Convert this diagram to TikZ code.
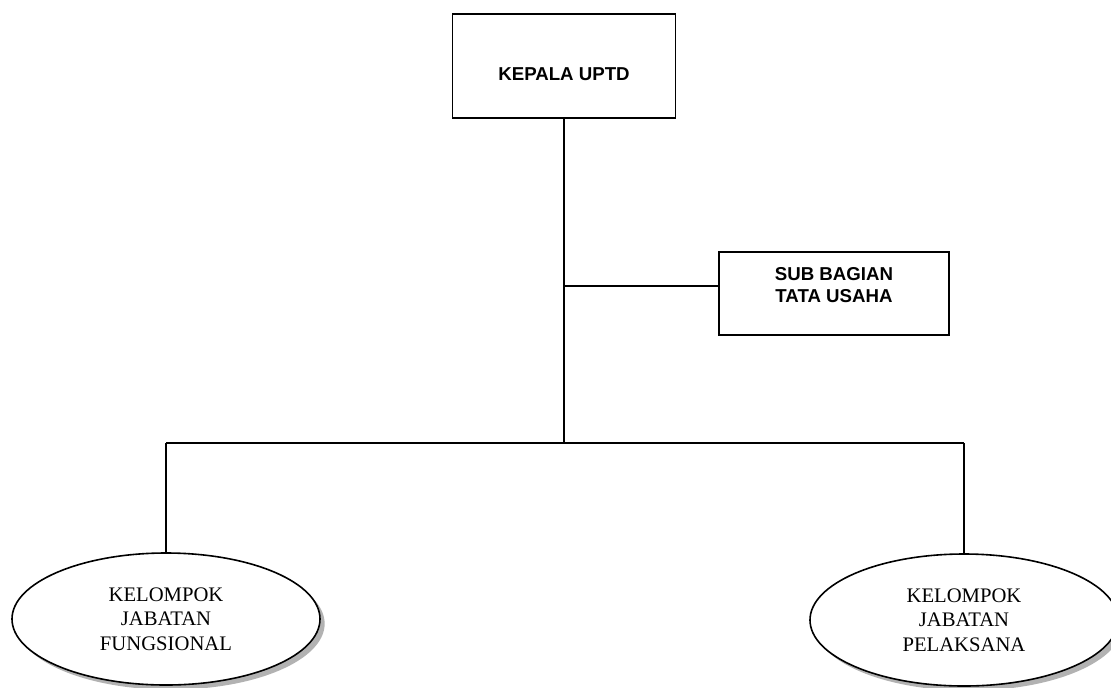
\documentclass[tikz,border=0pt]{standalone}
\usepackage{fontspec}
\setmainfont{Liberation Serif}
\setsansfont{Liberation Sans}
\usetikzlibrary{
	positioning,
	shapes.geometric,
	shadows,
	calc
}
\tikzset{
  % line
	orgline/.style ={line width=1.2pt},
  % node
	orgbox/.style  ={draw=black,fill=white,line width=1.2pt,font=\sffamily\bfseries\fontsize{14}{17}\selectfont,align=center},
	orgoval/.style ={ellipse,draw=black,fill=white,line width=1.2pt,minimum width=231pt,minimum height=99pt,
		font=\fontsize{15.5}{18.5}\selectfont,align=center,
		drop shadow={shadow xshift=3.5pt,shadow yshift=-3.5pt,fill=black!60}}
}
\begin{document}
\begin{tikzpicture}[x=0.75pt,y=-0.75pt]
	\useasboundingbox (0,0) rectangle (1111,687);
	\node[orgbox,minimum width=167pt,minimum height=78pt,text height=22pt,text depth=0pt] (kepala) at (564,66) {KEPALA UPTD};
	\node[orgbox,minimum width=172.5pt,minimum height=62pt,text height=14pt,text depth=0pt] (sub) at (834,293.5) {SUB BAGIAN\\TATA USAHA};
	\node[orgoval] (fung) at (166,619) {KELOMPOK\\JABATAN\\FUNGSIONAL};
	\node[orgoval] (pel) at (964,620) {KELOMPOK\\JABATAN\\PELAKSANA};
	\coordinate (hub) at (kepala.south |- 0,443);
	\draw[orgline] (kepala.south)--(hub);
	\draw[orgline] (sub.west) ++(0,-7.5) coordinate (subin) -- (subin -| kepala.south);
	\draw[orgline] (fung.north |- hub)--(pel.north |- hub);
	\draw[orgline] (fung.north |- hub)--(fung.north);
	\draw[orgline] (pel.north |- hub)--(pel.north);
\end{tikzpicture}
\end{document}
